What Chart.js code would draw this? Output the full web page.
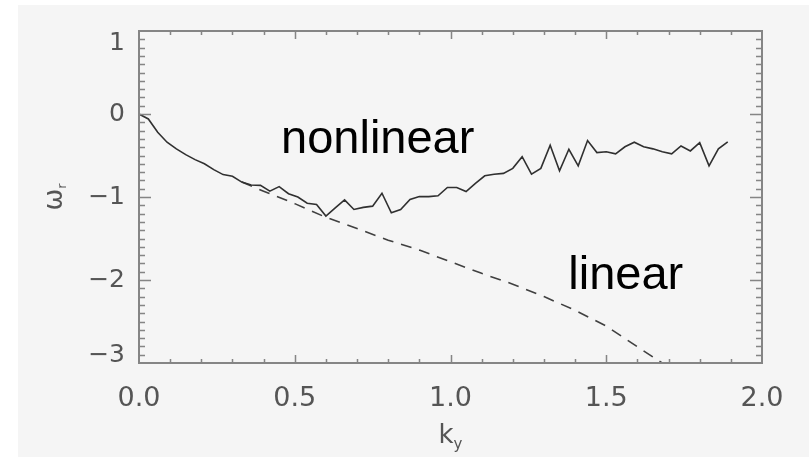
<!DOCTYPE html>
<html>
<head>
<meta charset="utf-8">
<script src="https://cdn.jsdelivr.net/npm/chart.js@4/dist/chart.umd.min.js"></script>
<style>
  html, body { margin: 0; padding: 0; background: #ffffff; }
  #c { display: block; }
</style>
</head>
<body>
<canvas id="c" width="809" height="457"></canvas>
<script>
// ---- data ----
const kNonlinear = [
  0.00, 0.03, 0.06, 0.09, 0.12, 0.15, 0.18, 0.21, 0.24, 0.27,
  0.30, 0.33, 0.36, 0.39, 0.42, 0.45, 0.48, 0.51, 0.54, 0.57,
  0.60, 0.63, 0.66, 0.69, 0.72, 0.75, 0.78, 0.81, 0.84, 0.87,
  0.90, 0.93, 0.96, 0.99, 1.02, 1.05, 1.08, 1.11, 1.14, 1.17,
  1.20, 1.23, 1.26, 1.29, 1.32, 1.35, 1.38, 1.41, 1.44, 1.47,
  1.50, 1.53, 1.56, 1.59, 1.62, 1.65, 1.68, 1.71, 1.74, 1.77,
  1.80, 1.83, 1.86, 1.89
];
const omegaNonlinear = [
  0.00, -0.06, -0.22, -0.34, -0.42, -0.49, -0.55, -0.60, -0.67, -0.73,
  -0.75, -0.82, -0.855, -0.86, -0.93, -0.875, -0.96, -1.00, -1.075, -1.09,
  -1.23, -1.13, -1.035, -1.15, -1.125, -1.11, -0.955, -1.19, -1.15, -1.03,
  -0.995, -0.995, -0.985, -0.885, -0.885, -0.935, -0.835, -0.745, -0.725, -0.715,
  -0.655, -0.515, -0.725, -0.655, -0.375, -0.685, -0.425, -0.625, -0.32, -0.465,
  -0.455, -0.48, -0.395, -0.34, -0.395, -0.42, -0.455, -0.48, -0.385, -0.445,
  -0.345, -0.625, -0.42, -0.335
];
// the linear curve coincides with the nonlinear one below k ~ 0.33
const kLinear = [
  0.33, 0.40, 0.50, 0.60, 0.70, 0.80, 0.90,
  1.00, 1.10, 1.20, 1.30, 1.40, 1.50, 1.60, 1.70
];
const omegaLinear = [
  -0.82, -0.93, -1.08, -1.245, -1.38, -1.52, -1.64,
  -1.78, -1.92, -2.05, -2.20, -2.365, -2.555, -2.805, -3.05
];
const xTickValues = [0.0, 0.5, 1.0, 1.5, 2.0];
const yTickValues = [-3, -2, -1, 0, 1];
const curveLabels = ["nonlinear", "linear"];
const curveLabelAt = [[0.456, -0.47], [1.378, -2.108]];
const xTitle = ["k", "y"];
const yTitle = ["ω", "r"];

// ---- drawing ----
const tickFont = "'DejaVu Sans', sans-serif";
const frameColor = "#858585";

const decorPlugin = {
  id: "decor",
  beforeDraw(chart) {
    const ctx = chart.ctx;
    ctx.save();
    ctx.fillStyle = "#ffffff";
    ctx.fillRect(0, 0, chart.width, chart.height);
    ctx.fillStyle = "#f5f5f5";
    ctx.fillRect(18, 5, chart.width - 18, chart.height - 5);
    ctx.restore();
  },
  afterDatasetsDraw(chart) {
    const ctx = chart.ctx;
    const a = chart.chartArea;
    const xs = chart.scales.x, ys = chart.scales.y;
    ctx.save();
    ctx.strokeStyle = frameColor;
    ctx.lineWidth = 2;
    ctx.strokeRect(a.left, a.top, a.right - a.left, a.bottom - a.top);
    ctx.lineWidth = 1.5;
    ctx.beginPath();
    for (let i = 1; i < 20; i++) {
      const v = i / 10;
      const px = Math.round(xs.getPixelForValue(v)) + 0.5;
      const len = (i % 5 === 0) ? 8 : 4;
      ctx.moveTo(px, a.bottom); ctx.lineTo(px, a.bottom - len);
      ctx.moveTo(px, a.top); ctx.lineTo(px, a.top + len);
    }
    for (let i = -29; i < 10; i++) {
      const v = i / 10;
      const py = Math.round(ys.getPixelForValue(v)) + 0.5;
      const len = (i % 10 === 0) ? 12 : 6;
      ctx.moveTo(a.left, py); ctx.lineTo(a.left + len, py);
      ctx.moveTo(a.right, py); ctx.lineTo(a.right - len, py);
    }
    ctx.stroke();
    ctx.restore();
  },
  afterDraw(chart) {
    const ctx = chart.ctx;
    const a = chart.chartArea;
    const xs = chart.scales.x, ys = chart.scales.y;
    ctx.save();
    ctx.fillStyle = "#000000";
    ctx.font = "47px 'Liberation Sans', Arial, sans-serif";
    ctx.textAlign = "left";
    ctx.textBaseline = "alphabetic";
    curveLabels.forEach((t, i) => {
      ctx.fillText(t, xs.getPixelForValue(curveLabelAt[i][0]), ys.getPixelForValue(curveLabelAt[i][1]));
    });
    ctx.fillStyle = "#555555";
    const cx = (a.left + a.right) / 2;
    ctx.font = "26px " + tickFont;
    const kw = ctx.measureText(xTitle[0]).width;
    ctx.font = "15px " + tickFont;
    const yw = ctx.measureText(xTitle[1]).width;
    const x0 = cx - (kw + yw) / 2;
    ctx.font = "26px " + tickFont;
    ctx.fillText(xTitle[0], x0, 443);
    ctx.font = "15px " + tickFont;
    ctx.fillText(xTitle[1], x0 + kw, 449);
    const cy = (a.top + a.bottom) / 2;
    ctx.translate(62, cy);
    ctx.rotate(-Math.PI / 2);
    ctx.font = "26px " + tickFont;
    const ow = ctx.measureText(yTitle[0]).width;
    ctx.font = "13px " + tickFont;
    const rw = ctx.measureText(yTitle[1]).width;
    ctx.font = "26px " + tickFont;
    ctx.fillText(yTitle[0], -(ow + rw) / 2, 0);
    ctx.font = "13px " + tickFont;
    ctx.fillText(yTitle[1], -(ow + rw) / 2 + ow, 4);
    ctx.restore();
  }
};

const fmt = v => (v < 0 ? "\u2212" + Math.abs(v) : String(v));
const yMin = -3, yMax = 1;

new Chart(document.getElementById("c"), {
  type: "line",
  data: {
    datasets: [
      {
        label: "nonlinear",
        data: kNonlinear.map((k, i) => ({ x: k, y: omegaNonlinear[i] })),
        borderColor: "#303030",
        borderWidth: 1.6,
        pointRadius: 0,
        tension: 0,
        order: 0
      },
      {
        label: "linear",
        data: kLinear.map((k, i) => ({ x: k, y: omegaLinear[i] })),
        borderColor: "#404040",
        borderWidth: 1.6,
        borderDash: [11, 8],
        pointRadius: 0,
        tension: 0,
        order: 1
      }
    ]
  },
  options: {
    responsive: false,
    animation: false,
    devicePixelRatio: 1,
    layout: { padding: { top: 31, right: 47, left: 0, bottom: 0 } },
    plugins: { legend: { display: false }, tooltip: { enabled: false } },
    scales: {
      x: {
        type: "linear",
        min: 0, max: 2,
        afterBuildTicks: s => { s.ticks = xTickValues.map(v => ({ value: v })); },
        afterFit: s => { s.height = 94; s.paddingLeft = 0; s.paddingRight = 0; },
        grid: { display: false, drawTicks: false },
        border: { display: false },
        ticks: {
          color: "#555555",
          font: { family: tickFont, size: 27 },
          padding: 20,
          maxRotation: 0,
          callback: v => Number(v).toFixed(1)
        }
      },
      y: {
        min: yMin, max: yMax,
        afterBuildTicks: s => { s.ticks = yTickValues.map(v => ({ value: v })); },
        afterFit: s => { s.width = 139; s.paddingTop = 0; s.paddingBottom = 0; },
        grid: { display: false, drawTicks: false },
        border: { display: false },
        ticks: {
          color: "#555555",
          font: c => {
            const v = c.tick ? c.tick.value : 0;
            if (v === yMax) return { family: tickFont, size: 25, lineHeight: "24px" };
            if (v === yMin) return { family: tickFont, size: 25, lineHeight: "16px" };
            return { family: tickFont, size: 25, lineHeight: 1.2 };
          },
          padding: 14,
          // edge labels sit just inside the frame, as in the reference
          callback: v => v === yMax ? ["", fmt(v)] : (v === yMin ? [fmt(v), ""] : fmt(v))
        }
      }
    }
  },
  plugins: [decorPlugin]
});
</script>
</body>
</html>
